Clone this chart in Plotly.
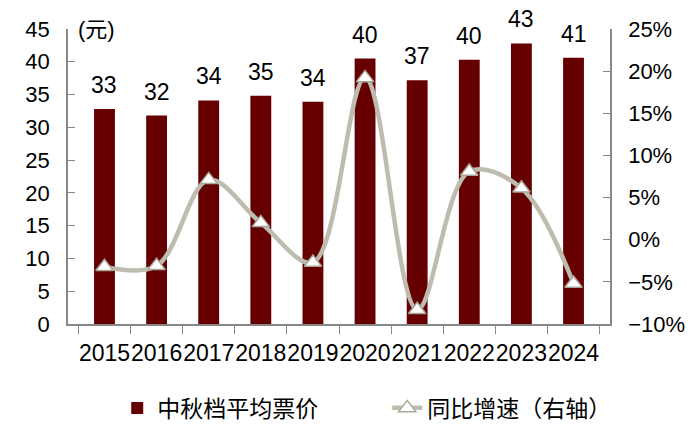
import plotly.graph_objects as go

years = ['2015', '2016', '2017', '2018', '2019', '2020', '2021', '2022', '2023', '2024']
avg_price = [32.8, 31.8, 34.1, 34.8, 33.9, 40.5, 37.2, 40.3, 42.8, 40.6]
price_labels = ['33', '32', '34', '35', '34', '40', '37', '40', '43', '41']
yoy_growth = [-3.2, -3.1, 7.1, 2.0, -2.7, 19.2, -8.3, 8.1, 6.1, -5.2]

FONT = 'Liberation Sans, Arial, Noto Sans CJK SC'

fig = go.Figure()

fig.add_trace(go.Bar(
    x=years,
    y=avg_price,
    name='中秋档平均票价',
    marker=dict(color='#660000', line=dict(width=0)),
    width=0.4,
))

fig.add_trace(go.Scatter(
    x=years,
    y=yoy_growth,
    name='同比增速（右轴）',
    yaxis='y2',
    mode='lines+markers',
    line=dict(color='#BDBCAE', width=4.5, shape='spline', smoothing=1.0),
    marker=dict(symbol='triangle-up', size=15, color='white',
                line=dict(color='#A8A798', width=1.5)),
))

# value labels above the bars (x given as category index)
for i, (val, lab) in enumerate(zip(avg_price, price_labels)):
    fig.add_annotation(
        x=i, y=val, text=lab, showarrow=False,
        yanchor='bottom', yshift=9,
        font=dict(size=23, color='black', family=FONT),
    )

fig.add_annotation(
    text='(元)', xref='paper', yref='paper', x=0.015, y=1.0,
    xanchor='left', yanchor='middle', showarrow=False,
    font=dict(size=22, color='black', family=FONT),
)

# page body has an 8px margin, so the figure is 8px smaller than the window
fig.update_layout(
    width=692,
    height=425,
    margin=dict(l=60, r=90, t=21, b=109),
    plot_bgcolor='white',
    paper_bgcolor='white',
    font=dict(family=FONT, size=22, color='black'),
    bargap=0.6,
    showlegend=True,
    legend=dict(
        orientation='h',
        x=0.548,
        xref='container',
        xanchor='center',
        y=0.059,
        yref='container',
        yanchor='middle',
        font=dict(size=23),
        entrywidth=225,
    ),
    xaxis=dict(
        type='category',
        automargin=False,
        tickangle=0,
        showgrid=False,
        showline=True,
        linecolor='#888888',
        linewidth=1.5,
        ticks='outside',
        tickson='boundaries',
        ticklen=8,
        tickcolor='#888888',
        ticklabelstandoff=8,
        tickfont=dict(size=23),
    ),
    yaxis=dict(
        range=[0, 45],
        dtick=5,
        automargin=False,
        showgrid=False,
        showline=True,
        linecolor='#888888',
        linewidth=1.5,
        ticks='inside',
        ticklen=7,
        tickcolor='#888888',
        ticklabelstandoff=12,
        tickfont=dict(size=22),
        zeroline=False,
    ),
    yaxis2=dict(
        range=[-10, 25],
        dtick=5,
        automargin=False,
        overlaying='y',
        side='right',
        showgrid=False,
        showline=True,
        linecolor='#888888',
        linewidth=1.5,
        ticks='inside',
        ticklen=7,
        tickcolor='#888888',
        ticksuffix='%',
        ticklabelstandoff=12,
        tickfont=dict(size=22),
        zeroline=False,
    ),
)

fig.write_html('out.html')
